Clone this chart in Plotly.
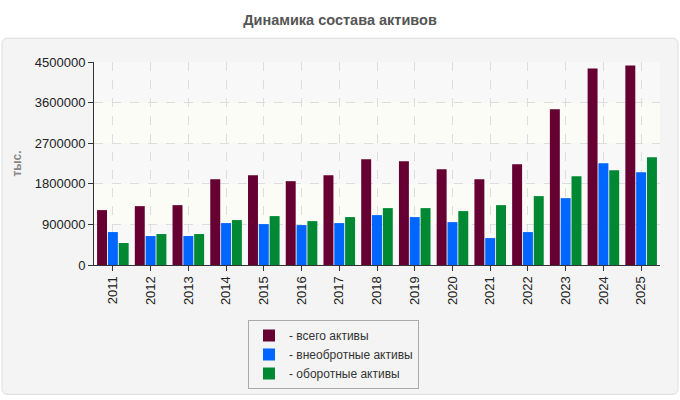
import plotly.graph_objects as go

years = [str(y) for y in range(2011, 2026)]
total = [1217000, 1305000, 1327000, 1903000, 1991000, 1858000, 1991000, 2345000,
         2301000, 2124000, 1903000, 2235000, 3451000, 4358000, 4425000]
noncurrent = [730000, 642000, 642000, 929000, 907000, 885000, 929000, 1106000,
              1062000, 951000, 597000, 730000, 1482000, 2257000, 2058000]
current = [487000, 686000, 686000, 996000, 1084000, 973000, 1062000, 1261000,
           1261000, 1195000, 1327000, 1527000, 1969000, 2102000, 2389000]
names = ["- всего активы", "- внеобротные активы", "- оборотные активы"]
colors = ["#660033", "#0066ff", "#008833"]
y_ticks = [0, 900000, 1800000, 2700000, 3600000, 4500000]

fig = go.Figure()
for vals, nm, c in zip([total, noncurrent, current], names, colors):
    fig.add_trace(go.Bar(x=years, y=vals, name=nm, marker=dict(color=c, line=dict(width=0))))

L, R, T, B = 94, 20, 62, 134
W, H = 680, 400
pw, ph = W - L - R, H - T - B

def px_x(p):
    return (p - L) / pw

def px_y(p):
    return (H - B - p) / ph

# panel with rounded corners
x0, x1 = px_x(2), px_x(678)
y0, y1 = px_y(396), px_y(38)
rx, ry = 6 / pw, 6 / ph
path = (f"M {x0+rx},{y1} L {x1-rx},{y1} Q {x1},{y1} {x1},{y1-ry} "
        f"L {x1},{y0+ry} Q {x1},{y0} {x1-rx},{y0} L {x0+rx},{y0} "
        f"Q {x0},{y0} {x0},{y0+ry} L {x0},{y1-ry} Q {x0},{y1} {x0+rx},{y1} Z")
shapes = [dict(type="path", xref="paper", yref="paper", path=path,
               fillcolor="#f4f4f4", line=dict(color="#dddddd", width=1), layer="below")]
# alternating bands
for i in range(5):
    col = "#f8f8f8" if i % 2 == 0 else "#fcfcf6"
    shapes.append(dict(type="rect", xref="paper", yref="y", x0=0, x1=1,
                       y0=y_ticks[i], y1=y_ticks[i + 1], fillcolor=col,
                       line=dict(width=0), layer="below"))

fig.update_layout(
    width=W, height=H,
    margin=dict(l=L, r=R, t=T, b=B),
    paper_bgcolor="white",
    plot_bgcolor="#f8f8f8",
    font=dict(family="Liberation Sans, Arial, sans-serif", size=13, color="#222"),
    title=dict(text="<b>Динамика состава активов</b>", x=0.5, xref="container", xanchor="center",
               y=1 - 20 / H, yanchor="middle", font=dict(size=14.5, color="#555")),
    bargap=0.14, bargroupgap=0.08,
    shapes=shapes,
    showlegend=True,
    legend=dict(x=px_x(248), y=px_y(320), xanchor="left", yanchor="top",
                bgcolor="#f4f4f4", bordercolor="#aaaaaa", borderwidth=1,
                font=dict(size=12, color="#333"), itemwidth=30, tracegroupgap=0),
)
fig.update_xaxes(type="category", tickangle=-90, showline=True, linecolor="#333",
                 linewidth=1, ticks="outside", ticklen=5, tickcolor="#333",
                 showgrid=True, gridcolor="#dddddd", griddash="dash", gridwidth=1,
                 tickfont=dict(size=13, color="#222"))
fig.update_yaxes(range=[0, 4500000], tickvals=y_ticks, ticktext=[str(v) for v in y_ticks],
                 showline=True, linecolor="#333", linewidth=1, ticks="outside",
                 ticklen=5, tickcolor="#333", showgrid=True, gridcolor="#dddddd",
                 griddash="dash", gridwidth=1, zeroline=False,
                 tickfont=dict(size=13, color="#222"),
                 title=dict(text="<b>тыс.</b>", font=dict(size=12, color="#888"), standoff=10))

fig.write_html("out.html")
